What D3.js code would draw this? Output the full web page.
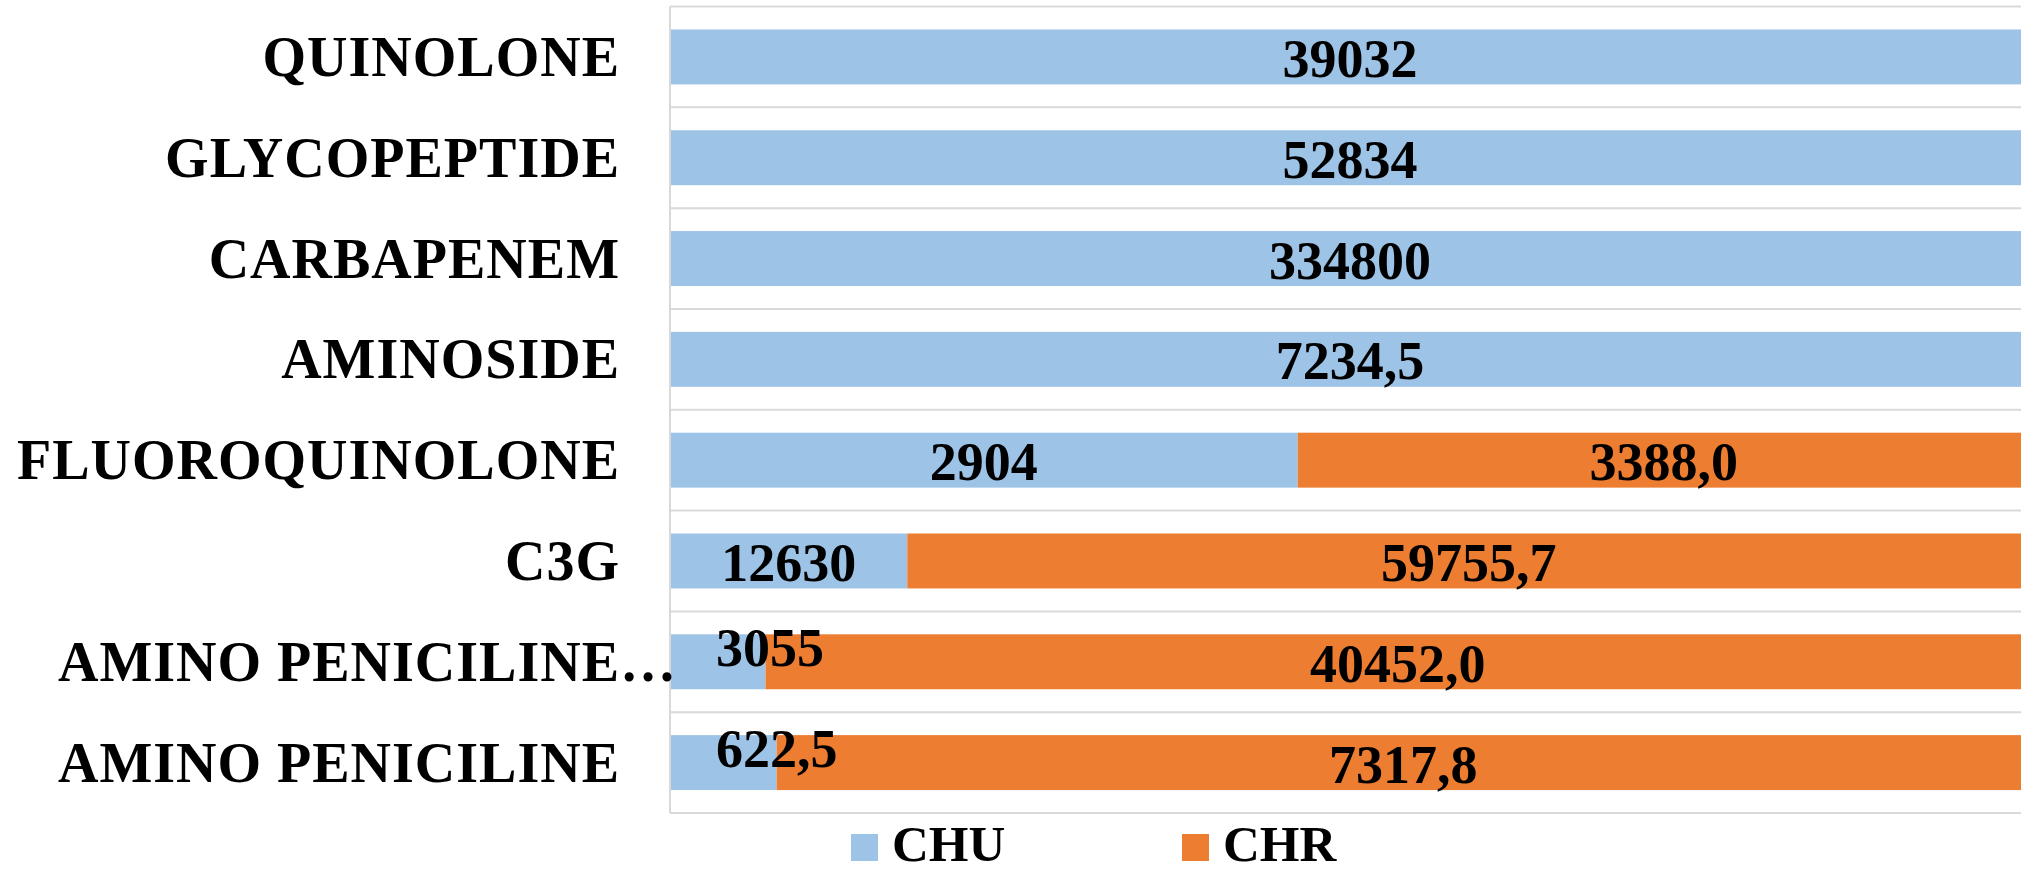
<!DOCTYPE html>
<html>
<head>
<meta charset="utf-8">
<script src="https://cdn.jsdelivr.net/npm/d3@7"></script>
<style>
  body { margin: 0; background: #fff; }
  svg { display: block; }
  text { font-family: "Liberation Serif", "Times New Roman", serif; font-weight: bold; fill: #000; }
</style>
</head>
<body>
<svg id="chart" width="2021" height="872"></svg>
<script>
// categories top to bottom
let categories = ["QUINOLONE", "GLYCOPEPTIDE", "CARBAPENEM", "AMINOSIDE", "FLUOROQUINOLONE", "C3G", "AMINO PENICILINE\u2026", "AMINO PENICILINE"];
let chuValues = [39032, 52834, 334800, 7234.5, 2904, 12630, 3055, 622.5];
let chrValues = [null, null, null, null, 3388.0, 59755.7, 40452.0, 7317.8];
let seriesNames = ["CHU", "CHR"];
let seriesColors = ["#9DC3E6", "#ED7D31"];

let width = 2021;
let height = 872;
let plotLeft = 670;
let plotRight = 2030; // 100% sits just past the picture edge
let plotTop = 6.5;
let plotBottom = 813;

let svg = d3.select("#chart");

let rows = categories.map(function (c, i) {
  return { cat: c, CHU: chuValues[i] || 0, CHR: chrValues[i] || 0, raw: [chuValues[i], chrValues[i]] };
});

let stacked = d3.stack()
  .keys(seriesNames)
  .offset(d3.stackOffsetExpand)(rows);

let xScale = d3.scaleLinear().domain([0, 1]).range([plotLeft, plotRight]);
let rowScale = d3.scaleBand().domain(categories).range([plotTop, plotBottom]).padding(0);
let barScale = d3.scaleBand().domain(categories).range([plotTop, plotBottom])
  .paddingInner(0.455).paddingOuter(0.2275);

// grid lines between rows
let gridY = categories.map(c => rowScale(c)).concat([plotBottom]);
svg.append("g").selectAll("line").data(gridY).enter().append("line")
  .attr("x1", plotLeft).attr("x2", width)
  .attr("y1", d => d).attr("y2", d => d)
  .attr("stroke", "#D9D9D9").attr("stroke-width", 2);

// bars
let layers = svg.append("g").selectAll("g").data(stacked).enter().append("g")
  .attr("fill", (d, i) => seriesColors[i]);
layers.selectAll("rect").data(d => d).enter().append("rect")
  .attr("x", d => xScale(d[0]))
  .attr("width", d => xScale(d[1]) - xScale(d[0]))
  .attr("y", d => barScale(d.data.cat))
  .attr("height", barScale.bandwidth());

// axis line
svg.append("line")
  .attr("x1", plotLeft).attr("x2", plotLeft)
  .attr("y1", plotTop).attr("y2", plotBottom)
  .attr("stroke", "#D9D9D9").attr("stroke-width", 2);

// category labels
let catLabels = svg.append("g").selectAll("text").data(categories).enter().append("text")
  .attr("x", 620)
  .attr("y", d => rowScale(d) + rowScale.bandwidth() / 2 + 19)
  .attr("text-anchor", "end")
  .attr("font-size", 56)
  .attr("letter-spacing", 1.0)
  .text(d => d);
// truncated label hangs past the normal right edge, like Excel does
catLabels.each(function (d) {
  if (d.endsWith("\u2026")) {
    let t = d3.select(this);
    let full = this.getComputedTextLength();
    t.text(d.slice(0, -1));
    let part = this.getComputedTextLength();
    t.text(d).attr("x", 620 + (full - part));
  }
});

function fmt(v, s) {
  if (s === 1 || !Number.isInteger(v)) return v.toFixed(1).replace(".", ",");
  return String(v);
}

// data labels
stacked.forEach(function (layer, s) {
  layer.forEach(function (d, i) {
    let v = d.data.raw[s];
    if (v == null) return;
    let x0 = xScale(d[0]), x1 = xScale(d[1]);
    let cy = barScale(d.data.cat) + barScale.bandwidth() / 2;
    let t = svg.append("text")
      .attr("font-size", 54)
      .attr("text-anchor", "middle")
      .attr("x", (x0 + x1) / 2)
      .attr("y", cy + 20)
      .text(fmt(v, s));
    let w = t.node().getComputedTextLength();
    if (w + 10 > x1 - x0) {
      // label too wide for its segment: moved right and up
      t.attr("text-anchor", "start").attr("x", x0 + 46).attr("y", cy + 4);
    }
  });
});

// legend
let legend = svg.append("g").selectAll("g").data(seriesNames).enter().append("g")
  .attr("transform", (d, i) => "translate(" + (851 + i * 331) + ",834)");
legend.append("rect").attr("width", 27).attr("height", 27).attr("fill", (d, i) => seriesColors[i]);
legend.append("text").attr("x", 41).attr("y", 27).attr("font-size", 51).text(d => d);
</script>
</body>
</html>
